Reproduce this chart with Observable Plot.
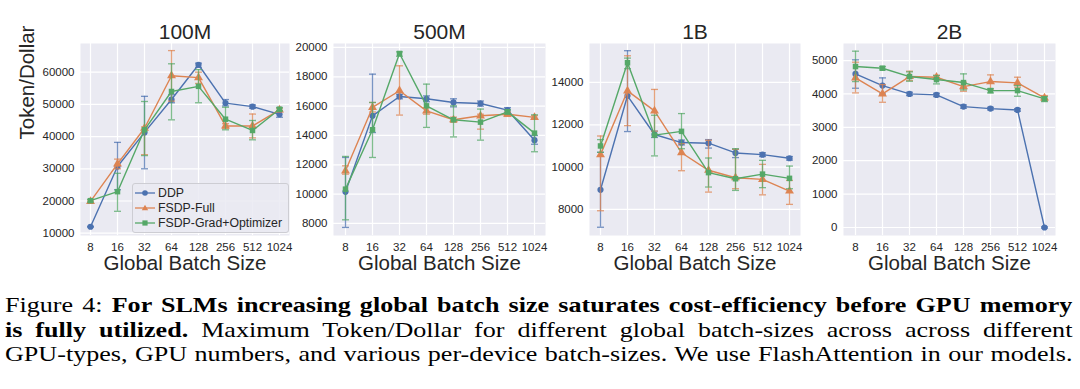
<!DOCTYPE html>
<html><head><meta charset="utf-8">
<script src="https://cdn.jsdelivr.net/npm/d3@7"></script>
<script src="https://cdn.jsdelivr.net/npm/@observablehq/plot@0.6"></script>
<style>
body{margin:0;background:#fff;width:1080px;height:389px;overflow:hidden;font-family:"Liberation Sans",Arial,sans-serif;}
#charts{position:relative;width:1080px;height:280px;}
#charts svg.panel{position:absolute;top:0;overflow:visible;}
#legend{position:absolute;left:132px;top:183px;width:155px;height:48px;background:rgba(234,234,242,0.85);border:1px solid #cdcdd3;border-radius:3px;font-size:12.3px;color:#262626;}
#legend .row{position:absolute;left:2px;height:14px;display:flex;align-items:center;white-space:nowrap;}
#legend .row svg{display:block;}
#legend .row span{margin-left:3px;}
#caption{position:absolute;left:5px;top:293px;width:900px;transform:scaleX(1.186);transform-origin:0 0;font-family:"Liberation Serif","Times New Roman",serif;font-size:22px;line-height:24.5px;color:#000;}
#caption div{text-align:justify;text-align-last:justify;}
</style></head>
<body>
<div id="charts"></div>
<div id="caption">
<div>Figure 4: <b>For SLMs increasing global batch size saturates cost-efficiency before GPU memory</b></div>
<div><b>is fully utilized.</b> Maximum Token/Dollar for different global batch-sizes across across different</div>
<div>GPU-types, GPU numbers, and various per-device batch-sizes. We use FlashAttention in our models.</div>
</div>
<script>
const sizes = ["8","16","32","64","128","256","512","1024"];
const seriesNames = ["DDP","FSDP-Full","FSDP-Grad+Optimizer"];
const colors = ["#4c72b0","#dd8452","#55a868"];
const symbols = ["circle","triangle","square"];
const titles = ["100M","500M","1B","2B"];

// 100M
const m100_ddp     = [12000, 30700, 41300, 51500, 62300, 50400, 49300, 46900];
const m100_ddp_lo  = [11900, 23500, 30000, 50500, 61500, 49500, 48800, 46000];
const m100_ddp_hi  = [12100, 38200, 52500, 53000, 62800, 51500, 49800, 47800];
const m100_full    = [19900, 31500, 42600, 58900, 58300, 43300, 43300, 48300];
const m100_full_lo = [19500, 30000, 34400, 51000, 56500, 42500, 39600, 47800];
const m100_full_hi = [20300, 33000, 43000, 66700, 60000, 44000, 47000, 48800];
const m100_grad    = [20100, 22900, 42100, 54000, 55600, 45400, 41900, 48500];
const m100_grad_lo = [19700, 16800, 34100, 45200, 50500, 42100, 39000, 48000];
const m100_grad_hi = [20500, 28600, 50900, 62600, 60800, 49100, 45000, 49000];
// 500M
const m500_ddp     = [10160, 15340, 16660, 16500, 16250, 16180, 15730, 13680];
const m500_ddp_lo  = [7730, 14200, 16500, 16300, 15950, 16000, 15550, 13400];
const m500_ddp_hi  = [12500, 18180, 16800, 16700, 16500, 16350, 15900, 14000];
const m500_full    = [11590, 15910, 17050, 15680, 15070, 15340, 15450, 15230];
const m500_full_lo = [11360, 15600, 15390, 15450, 14900, 14430, 15300, 15100];
const m500_full_hi = [11930, 16250, 18750, 15900, 15250, 15450, 15600, 15350];
const m500_grad    = [10340, 14390, 19590, 16020, 15070, 14910, 15610, 14160];
const m500_grad_lo = [8250, 12500, 19400, 14550, 13900, 13680, 15450, 12890];
const m500_grad_hi = [12570, 16250, 19700, 17500, 16020, 15800, 15750, 15410];
// 1B
const b1_ddp     = [8930, 13370, 11540, 11160, 11130, 10670, 10590, 10420];
const b1_ddp_lo  = [7160, 11680, 11400, 11050, 10900, 10450, 10500, 10330];
const b1_ddp_hi  = [10700, 15500, 11700, 11280, 11300, 10840, 10680, 10500];
const b1_full    = [10590, 13600, 12660, 10680, 9850, 9500, 9420, 8870];
const b1_full_lo = [7940, 11960, 11700, 9830, 8820, 8980, 8690, 8240];
const b1_full_hi = [11470, 15260, 13670, 11110, 11270, 10840, 10130, 9370];
const b1_grad    = [11000, 14930, 11510, 11690, 9740, 9450, 9670, 9470];
const b1_grad_lo = [10700, 14650, 10530, 10870, 9060, 8900, 9030, 8980];
const b1_grad_hi = [11300, 15150, 12450, 12530, 10430, 10870, 10320, 10050];
// 2B
const b2_ddp     = [4600, 4250, 4000, 3970, 3620, 3560, 3520, 0];
const b2_ddp_lo  = [4170, 4000, 3950, 3920, 3570, 3520, 3480, -20];
const b2_ddp_hi  = [5020, 4480, 4050, 4020, 3670, 3600, 3560, 20];
const b2_full    = [4480, 4000, 4520, 4500, 4220, 4370, 4330, 3880];
const b2_full_lo = [4030, 3750, 4400, 4430, 4080, 4120, 4200, 3800];
const b2_full_hi = [4950, 4280, 4680, 4560, 4350, 4570, 4500, 3950];
const b2_grad    = [4820, 4770, 4520, 4430, 4340, 4100, 4100, 3850];
const b2_grad_lo = [4370, 4720, 4380, 4300, 4120, 4030, 3930, 3770];
const b2_grad_hi = [5280, 4820, 4660, 4550, 4600, 4160, 4250, 3920];

const yTicks100 = [10000, 20000, 30000, 40000, 50000, 60000];
const yTicks500 = [8000, 10000, 12000, 14000, 16000, 18000, 20000];
const yTicks1b  = [8000, 10000, 12000, 14000];
const yTicks2b  = [0, 1000, 2000, 3000, 4000, 5000];

const panels = [
  {title: titles[0], left: 80, w: 209, domain: [9290, 68900], ticks: yTicks100, ylabel: true,
   s: [[m100_ddp, m100_ddp_lo, m100_ddp_hi], [m100_full, m100_full_lo, m100_full_hi], [m100_grad, m100_grad_lo, m100_grad_hi]]},
  {title: titles[1], left: 333, w: 212, domain: [7180, 20270], ticks: yTicks500,
   s: [[m500_ddp, m500_ddp_lo, m500_ddp_hi], [m500_full, m500_full_lo, m500_full_hi], [m500_grad, m500_grad_lo, m500_grad_hi]]},
  {title: titles[2], left: 589, w: 211, domain: [6770, 15840], ticks: yTicks1b,
   s: [[b1_ddp, b1_ddp_lo, b1_ddp_hi], [b1_full, b1_full_lo, b1_full_hi], [b1_grad, b1_grad_lo, b1_grad_hi]]},
  {title: titles[3], left: 843, w: 212, domain: [-240, 5510], ticks: yTicks2b,
   s: [[b2_ddp, b2_ddp_lo, b2_ddp_hi], [b2_full, b2_full_lo, b2_full_hi], [b2_grad, b2_grad_lo, b2_grad_hi]]}
];

const capSymbol = {draw(ctx) { ctx.moveTo(-3.5, 0); ctx.lineTo(3.5, 0); }};
const txt = "#262626";
const container = document.getElementById("charts");

panels.forEach(p => {
  const mL = p.ylabel ? 80 : 50, mR = 6;
  const marks = [
    Plot.frame({fill: "#eaeaf2", stroke: null}),
    Plot.gridY(p.ticks, {stroke: "white", strokeOpacity: 1, strokeWidth: 1.2}),
    Plot.gridX(sizes, {stroke: "white", strokeOpacity: 1, strokeWidth: 1.2}),
    Plot.axisX({tickSize: 0, tickPadding: 7, fontSize: 11.5, label: null, fill: txt}),
    Plot.axisY(p.ticks, {tickSize: 0, tickPadding: 6, fontSize: 11.5, label: null, fill: txt, tickFormat: d => String(d)})
  ];
  p.s.forEach(([v, lo, hi], k) => {
    const rows = sizes.map((x, i) => ({x, v: v[i], lo: lo[i], hi: hi[i]}));
    const c = colors[k];
    marks.push(
      Plot.ruleX(rows, {x: "x", y1: "lo", y2: "hi", stroke: c, strokeOpacity: 0.75, strokeWidth: 1.3}),
      Plot.dot(rows, {x: "x", y: "lo", symbol: capSymbol, fill: "none", stroke: c, strokeOpacity: 0.75, strokeWidth: 1.3}),
      Plot.dot(rows, {x: "x", y: "hi", symbol: capSymbol, fill: "none", stroke: c, strokeOpacity: 0.75, strokeWidth: 1.3}),
      Plot.line(rows, {x: "x", y: "v", stroke: c, strokeWidth: 1.4}),
      Plot.dot(rows, {x: "x", y: "v", symbol: symbols[k], fill: c, stroke: "none", r: symbols[k] === "triangle" ? 3.3 : 3.1})
    );
  });
  marks.push(
    Plot.text([p.title], {text: d => d, frameAnchor: "top", dy: -11, lineAnchor: "middle", fontSize: 21, fill: txt}),
    Plot.text(["Global Batch Size"], {text: d => d, frameAnchor: "bottom", dy: 28, lineAnchor: "middle", fontSize: 20.5, fill: txt})
  );
  if (p.ylabel) marks.push(Plot.text(["Token/Dollar"], {text: d => d, frameAnchor: "left", dx: -53, rotate: -90, lineAnchor: "middle", fontSize: 20.5, fill: txt}));
  const svg = Plot.plot({
    width: mL + p.w + mR, height: 280,
    marginLeft: mL, marginRight: mR, marginTop: 43, marginBottom: 45,
    x: {type: "point", domain: sizes, padding: 0.35},
    y: {domain: p.domain},
    style: {fontFamily: '"Liberation Sans", Arial, sans-serif', fontSize: "11.5px", background: "transparent", color: txt, overflow: "visible"},
    marks
  });
  svg.classList.add("panel");
  svg.style.left = (p.left - mL) + "px";
  container.appendChild(svg);
});

// legend inside first panel
const leg = document.createElement("div");
leg.id = "legend";
seriesNames.forEach((name, k) => {
  const row = document.createElement("div");
  row.className = "row";
  row.style.top = (1.5 + k * 15) + "px";
  const sym = symbols[k] === "circle" ? '<circle cx="10" cy="7" r="2.8"/>' :
    symbols[k] === "triangle" ? '<path d="M10,3.8L13.2,9.3L6.8,9.3Z"/>' : '<rect x="7.4" y="4.4" width="5.2" height="5.2"/>';
  row.innerHTML = `<svg width="20" height="14"><line x1="0" x2="20" y1="7" y2="7" stroke="${colors[k]}" stroke-width="1.3"/><g fill="${colors[k]}">${sym}</g></svg><span>${name}</span>`;
  leg.appendChild(row);
});
container.appendChild(leg);
</script>
</body></html>
